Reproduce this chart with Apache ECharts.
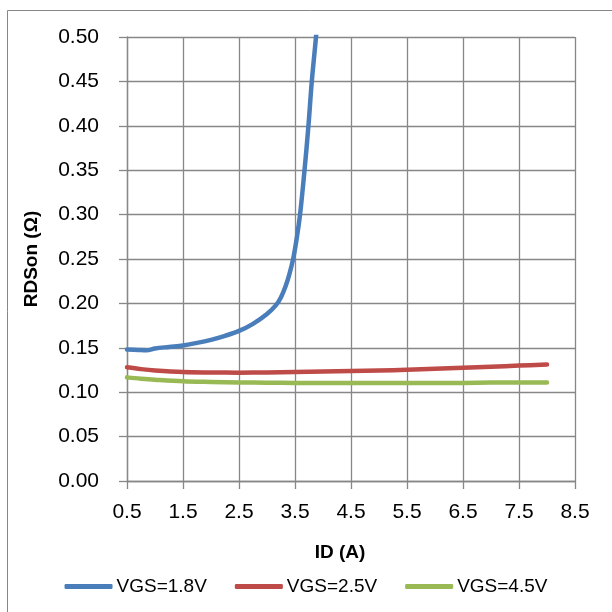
<!DOCTYPE html>
<html>
<head>
<meta charset="utf-8">
<script src="https://cdn.jsdelivr.net/npm/echarts@6/dist/echarts.min.js"></script>
<style>
html,body{margin:0;padding:0;background:#fff;}
#c{width:612px;height:612px;}
</style>
</head>
<body>
<div id="c"></div>
<script>
// Data
var seriesNames = ['VGS=1.8V', 'VGS=2.5V', 'VGS=4.5V'];
var vgs18_x = [0.5, 0.7, 0.85, 1.0, 1.25, 1.5, 1.75, 2.0, 2.25, 2.5, 2.75, 3.0, 3.16, 3.25, 3.33, 3.40, 3.47, 3.53, 3.59, 3.67, 3.74, 3.80, 3.875, 3.93];
var vgs18_y = [0.148, 0.1475, 0.1472, 0.1492, 0.151, 0.1527, 0.1555, 0.159, 0.1635, 0.169, 0.177, 0.188, 0.198, 0.207, 0.219, 0.233, 0.251, 0.273, 0.30, 0.35, 0.40, 0.45, 0.50, 0.54];
var vgs25_x = [0.5, 0.75, 1.0, 1.5, 2.0, 2.5, 3.0, 3.5, 4.0, 4.5, 5.0, 5.5, 6.0, 6.5, 7.0, 7.5, 8.0];
var vgs25_y = [0.128, 0.126, 0.1245, 0.1227, 0.1222, 0.122, 0.1222, 0.1228, 0.1233, 0.124, 0.1245, 0.1252, 0.1263, 0.1275, 0.1287, 0.130, 0.1312];
var vgs45_x = [0.5, 0.75, 1.0, 1.5, 2.0, 2.5, 3.0, 3.5, 4.5, 5.5, 6.5, 7.5, 8.0];
var vgs45_y = [0.1167, 0.1152, 0.114, 0.1122, 0.1115, 0.111, 0.1107, 0.1104, 0.1103, 0.1103, 0.1105, 0.111, 0.111];
var xTickStart = 0.5; // first x tick label (ticks at 0.5, 1.5, ... 8.5)
var colors = ['#4A7EBB', '#BE4B48', '#98B954'];

function pairs(xs, ys) {
  // x axis is laid out from the first tick (0.5) so ticks fall every 1.0
  return xs.map(function (x, i) { return [x - xTickStart, ys[i]]; });
}

var FONT = 'Liberation Sans';
var chart = echarts.init(document.getElementById('c'), null, {renderer: 'canvas'});
var allX = [vgs18_x, vgs25_x, vgs45_x];
var allY = [vgs18_y, vgs25_y, vgs45_y];
var series = seriesNames.map(function (n, i) {
  return {
    name: n, type: 'line', data: pairs(allX[i], allY[i]),
    showSymbol: false, symbol: 'none', smooth: 0.35, clip: true,
    lineStyle: {color: colors[i], width: 4.5, cap: 'round', join: 'round'},
    itemStyle: {color: colors[i]}
  };
});

chart.setOption({
  animation: false,
  backgroundColor: '#fff',
  graphic: [{
    type: 'rect', shape: {x: 7.5, y: 10.5, width: 640, height: 640},
    style: {fill: 'none', stroke: '#878787', lineWidth: 1}, silent: true, z: -1
  }],
  grid: {left: 127, right: 37, top: 37, bottom: 131, containLabel: false},
  xAxis: {
    type: 'value', min: 0, max: 8, interval: 1,
    name: 'ID (A)', nameLocation: 'middle', nameGap: 62,
    nameTextStyle: {fontFamily: FONT, fontSize: 19, fontWeight: 'bold', color: '#000', padding: [0, 22, 0, 0]},
    axisLine: {show: true, lineStyle: {color: '#878787', width: 1.3}},
    axisTick: {show: true, inside: false, length: 8, lineStyle: {color: '#878787', width: 1.3}},
    axisLabel: {margin: 21, fontFamily: FONT, fontSize: 21, color: '#000',
      formatter: function (v) { return (v + xTickStart).toFixed(1); }},
    splitLine: {show: true, lineStyle: {color: '#878787', width: 1.3}}
  },
  yAxis: {
    type: 'value', min: 0, max: 0.5, interval: 0.05,
    name: 'RDSon (Ω)', nameLocation: 'middle', nameGap: 86, nameRotate: 90,
    nameTextStyle: {fontFamily: FONT, fontSize: 19, fontWeight: 'bold', color: '#000'},
    axisLine: {show: true, lineStyle: {color: '#878787', width: 1.3}},
    axisTick: {show: true, inside: false, length: 8, lineStyle: {color: '#878787', width: 1.3}},
    axisLabel: {margin: 28, fontFamily: FONT, fontSize: 21, color: '#000',
      formatter: function (v) { return v.toFixed(2); }},
    splitLine: {show: true, lineStyle: {color: '#878787', width: 1.3}}
  },
  legend: {
    data: seriesNames, left: 'center', top: 572,
    icon: 'roundRect', itemWidth: 48, itemHeight: 5, itemGap: 28,
    textStyle: {fontFamily: FONT, fontSize: 19, color: '#000', padding: [0, 0, 0, -1]}
  },
  series: series
});
</script>
</body>
</html>
